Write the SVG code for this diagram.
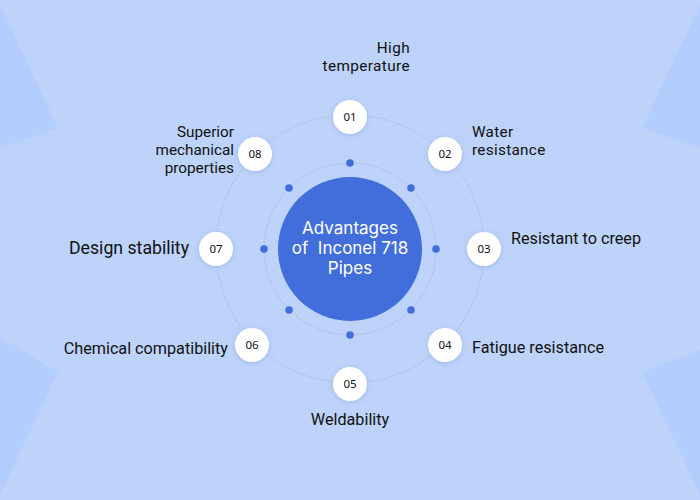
<svg xmlns="http://www.w3.org/2000/svg" width="700" height="500" viewBox="0 0 700 500">
<defs>
<filter id="sh" x="-50%" y="-50%" width="200%" height="200%">
<feDropShadow dx="0" dy="1" stdDeviation="2.5" flood-color="#5a74b0" flood-opacity="0.3"/>
</filter>
<style>
.ring{fill:none;stroke:#8d9cc0;stroke-width:0.8;stroke-dasharray:1 2}
.node{fill:#ffffff;filter:url(#sh)}
.num{font-family:"Noto Sans","Open Sans",sans-serif;font-size:11.5px;fill:#111;text-anchor:middle}
.lbl{font-family:Roboto,"Noto Sans",sans-serif;font-size:15.3px;fill:#111}
.one{font-size:16.2px}
.big{font-size:17.7px}
.dot{fill:#426edb}
.ctr{font-family:Inter,"Noto Sans",sans-serif;font-size:17px;fill:#ffffff;text-anchor:middle}
</style>
</defs>
<rect width="700" height="500" fill="#bdd3fa"/>
<polygon points="0,5 58,128 0,148" fill="#b3cefd"/>
<polygon points="0,337 58,372 0,495" fill="#b3cefd"/>
<polygon points="700,5 642,128 700,148" fill="#b3cefd"/>
<polygon points="700,350 642,372 700,495" fill="#b3cefd"/>
<g id="connectors">
<circle class="ring" cx="350" cy="249" r="134"/>
<circle class="ring" cx="350" cy="249" r="86"/>
</g>
<g id="center">
<circle cx="350" cy="249" r="72" fill="#426edb"/>
<text class="ctr" xml:space="preserve"><tspan x="350" y="234">Advantages</tspan><tspan x="350" y="254">of  Inconel 718</tspan><tspan x="350" y="274">Pipes</tspan></text>
</g>
<g id="dots">
<circle class="dot" cx="350" cy="163" r="3.8"/>
<circle class="dot" cx="411" cy="188" r="3.8"/>
<circle class="dot" cx="436" cy="249" r="3.8"/>
<circle class="dot" cx="411" cy="310" r="3.8"/>
<circle class="dot" cx="350" cy="335" r="3.8"/>
<circle class="dot" cx="289" cy="310" r="3.8"/>
<circle class="dot" cx="264" cy="249" r="3.8"/>
<circle class="dot" cx="289" cy="188" r="3.8"/>
</g>
<g id="n01"><circle class="node" cx="350" cy="117" r="17"/><text class="num" x="350" y="121">01</text>
<text class="lbl" text-anchor="end" letter-spacing="0.4"><tspan x="410" y="53">High</tspan><tspan x="410" y="71">temperature</tspan></text></g>
<g id="n02"><circle class="node" cx="445" cy="154" r="17"/><text class="num" x="445" y="158">02</text>
<text class="lbl" letter-spacing="0.3"><tspan x="472" y="137">Water</tspan><tspan x="472" y="155">resistance</tspan></text></g>
<g id="n03"><circle class="node" cx="484" cy="249" r="17"/><text class="num" x="484" y="253">03</text>
<text class="lbl one" x="511" y="244">Resistant to creep</text></g>
<g id="n04"><circle class="node" cx="445" cy="345" r="17"/><text class="num" x="445" y="349">04</text>
<text class="lbl one" x="472" y="353">Fatigue resistance</text></g>
<g id="n05"><circle class="node" cx="350" cy="384" r="17"/><text class="num" x="350" y="388">05</text>
<text class="lbl one" x="350" y="425" text-anchor="middle">Weldability</text></g>
<g id="n06"><circle class="node" cx="252" cy="345" r="17"/><text class="num" x="252" y="349">06</text>
<text class="lbl one" x="228" y="354" text-anchor="end">Chemical compatibility</text></g>
<g id="n07"><circle class="node" cx="216" cy="249" r="17"/><text class="num" x="216" y="253">07</text>
<text class="lbl big" x="189" y="254" text-anchor="end">Design stability</text></g>
<g id="n08"><circle class="node" cx="255" cy="154" r="17"/><text class="num" x="255" y="158">08</text>
<text class="lbl" text-anchor="end"><tspan x="234" y="137">Superior</tspan><tspan x="234" y="155">mechanical</tspan><tspan x="234" y="173">properties</tspan></text></g>
</svg>
